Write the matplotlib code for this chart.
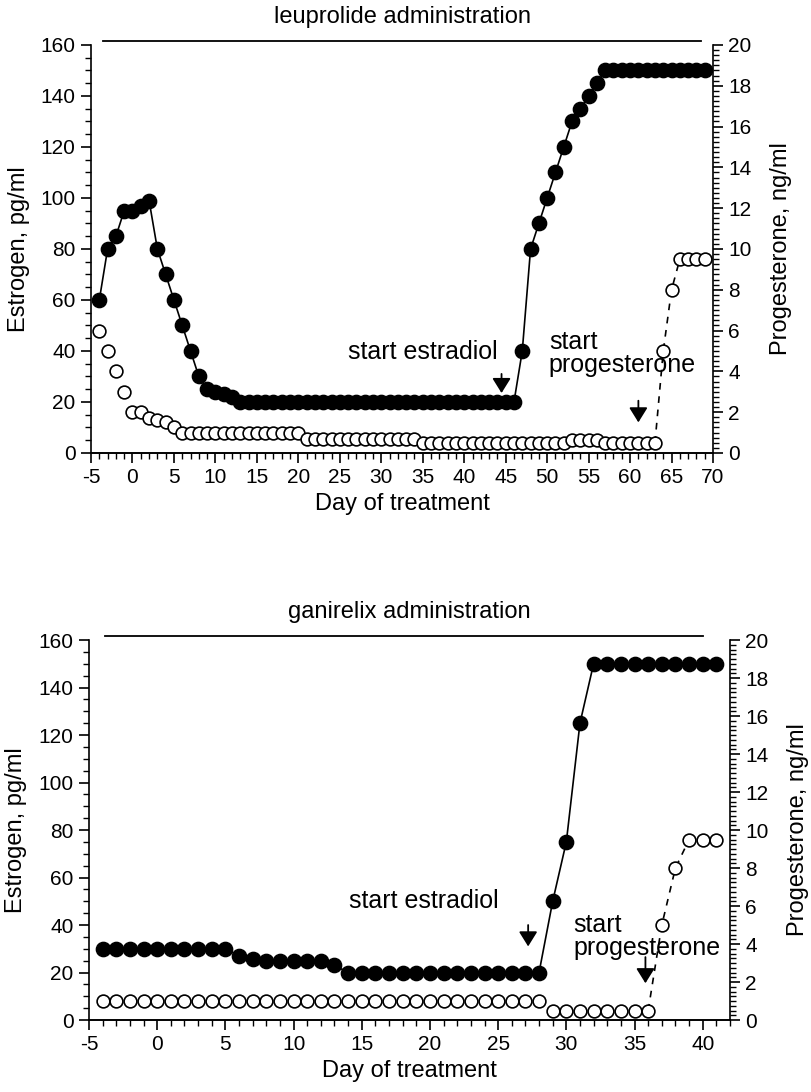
import matplotlib
matplotlib.use('Agg')
import matplotlib.pyplot as plt
from matplotlib.ticker import MultipleLocator

plt.rcParams['font.family'] = 'Liberation Sans'
plt.rcParams['axes.unicode_minus'] = False

# leuprolide panel: daily values
leu_days = [-4, -3, -2, -1, 0, 1, 2, 3, 4, 5, 6, 7, 8, 9, 10, 11, 12,
            13, 14, 15, 16, 17, 18, 19, 20, 21, 22, 23, 24, 25, 26, 27, 28, 29,
            30, 31, 32, 33, 34, 35, 36, 37, 38, 39, 40, 41, 42, 43, 44, 45, 46,
            47, 48, 49, 50, 51, 52, 53, 54, 55, 56,
            57, 58, 59, 60, 61, 62, 63, 64, 65, 66, 67, 68, 69]
leu_estrogen = [60, 80, 85, 95, 95, 97, 99, 80, 70, 60, 50, 40, 30, 25, 24, 23, 22,
                20, 20, 20, 20, 20, 20, 20, 20, 20, 20, 20, 20, 20, 20, 20, 20, 20,
                20, 20, 20, 20, 20, 20, 20, 20, 20, 20, 20, 20, 20, 20, 20, 20, 20,
                40, 80, 90, 100, 110, 120, 130, 135, 140, 145,
                150, 150, 150, 150, 150, 150, 150, 150, 150, 150, 150, 150, 150]
leu_progesterone = [6.0, 5.0, 4.0, 3.0, 2.0, 2.0, 1.7, 1.6, 1.5, 1.25,
                    1.0, 1.0, 1.0, 1.0, 1.0, 1.0, 1.0, 1.0, 1.0, 1.0, 1.0, 1.0, 1.0, 1.0, 1.0,
                    0.7, 0.7, 0.7, 0.7, 0.7, 0.7, 0.7, 0.7, 0.7, 0.7, 0.7, 0.7, 0.7, 0.7,
                    0.5, 0.5, 0.5, 0.5, 0.5, 0.5, 0.5, 0.5, 0.5, 0.5, 0.5, 0.5, 0.5, 0.5,
                    0.5, 0.5, 0.5, 0.5,
                    0.65, 0.65, 0.65, 0.65,
                    0.5, 0.5, 0.5, 0.5, 0.5, 0.5, 0.5,
                    5.0, 8.0, 9.5, 9.5, 9.5, 9.5]
leu_admin = [-3.5, 68.5]          # treatment bar, days
leu_estradiol_start = 44.5
leu_progesterone_start = 61
leu_prog_rise_from = 63

# ganirelix panel: daily values
gan_days = [-4, -3, -2, -1, 0, 1, 2, 3, 4, 5, 6, 7, 8, 9, 10, 11, 12, 13,
            14, 15, 16, 17, 18, 19, 20, 21, 22, 23, 24, 25, 26, 27, 28,
            29, 30, 31, 32, 33, 34, 35, 36, 37, 38, 39, 40, 41]
gan_estrogen = [30, 30, 30, 30, 30, 30, 30, 30, 30, 30, 27, 25.5, 25, 25, 25, 25, 25, 23,
                20, 20, 20, 20, 20, 20, 20, 20, 20, 20, 20, 20, 20, 20, 20,
                50, 75, 125, 150, 150, 150, 150, 150, 150, 150, 150, 150, 150]
gan_progesterone = [1.0, 1.0, 1.0, 1.0, 1.0, 1.0, 1.0, 1.0, 1.0, 1.0, 1.0, 1.0, 1.0, 1.0,
                    1.0, 1.0, 1.0, 1.0, 1.0, 1.0, 1.0, 1.0, 1.0, 1.0, 1.0, 1.0, 1.0, 1.0,
                    1.0, 1.0, 1.0, 1.0, 1.0,
                    0.5, 0.5, 0.5, 0.5, 0.5, 0.5, 0.5, 0.5,
                    5.0, 8.0, 9.5, 9.5, 9.5]
gan_admin = [-3.8, 40]
gan_estradiol_start = 27.2
gan_progesterone_start = 35.8
gan_prog_rise_from = 36

ARROW = dict(arrowstyle='-|>,head_length=0.45,head_width=0.28', color='black',
             lw=1.3, mutation_scale=20, shrinkA=0, shrinkB=0)


def draw_panel(ax, days, estrogen, progesterone, rise_from, admin, xmax, title,
               e_arrow, p_arrow, e_text, p_text):
    axr = ax.twinx()
    ax.plot(days, estrogen, color='black', lw=1.2, marker='o', ms=10.3,
            mfc='black', mec='black', zorder=3)
    rise = [i for i, d in enumerate(days) if d >= rise_from]
    axr.plot([days[i] for i in rise], [progesterone[i] for i in rise],
             color='black', lw=1.2, ls=(0, (4, 4)), zorder=2)
    axr.plot(days, progesterone, ls='none', marker='o', ms=9.2,
             mfc='white', mec='black', mew=1.2, zorder=3)

    ax.plot(admin, [161.5, 161.5], color='black', lw=1.3, clip_on=False)

    ax.set_xlim(-5, xmax)
    ax.set_ylim(0, 160)
    axr.set_ylim(0, 20)
    ax.xaxis.set_major_locator(MultipleLocator(5))
    ax.xaxis.set_minor_locator(MultipleLocator(1))
    ax.yaxis.set_major_locator(MultipleLocator(20))
    ax.yaxis.set_minor_locator(MultipleLocator(5))
    axr.yaxis.set_major_locator(MultipleLocator(2))
    axr.yaxis.set_minor_locator(MultipleLocator(0.25))

    for a in (ax, axr):
        a.spines['top'].set_visible(False)
        for s in a.spines.values():
            s.set_linewidth(1.2)
        a.tick_params(which='major', direction='out', length=7, width=1.2,
                      labelsize=15, pad=4)
        a.tick_params(which='minor', direction='out', length=4, width=1.0)
    ax.spines['right'].set_visible(False)
    axr.spines['left'].set_visible(False)

    ax.set_ylabel('Estrogen, pg/ml', fontsize=17, labelpad=8)
    axr.set_ylabel('Progesterone, ng/ml', fontsize=17, labelpad=13)
    ax.set_xlabel('Day of treatment', fontsize=17, labelpad=4)
    ax.set_title(title, fontsize=17, pad=16)

    ax.annotate('', xy=(e_arrow[0], e_arrow[2]), xytext=(e_arrow[0], e_arrow[1]),
                arrowprops=ARROW)
    ax.annotate('', xy=(p_arrow[0], p_arrow[2]), xytext=(p_arrow[0], p_arrow[1]),
                arrowprops=ARROW)
    ax.text(e_text[0], e_text[1], 'start estradiol', fontsize=18,
            ha='left', va='center')
    ax.text(p_text[0], p_text[1], 'start\nprogesterone', fontsize=18,
            ha='left', va='center', linespacing=0.95)
    return axr


fig = plt.figure(figsize=(8.12, 10.92), dpi=100)

ax1 = fig.add_axes([0.1121, 0.5852, 0.7660, 0.3736])
draw_panel(ax1, leu_days, leu_estrogen, leu_progesterone, leu_prog_rise_from,
           leu_admin, 70, 'leuprolide administration',
           (leu_estradiol_start, 31, 23.5), (leu_progesterone_start, 20.5, 12),
           (26, 39.5), (50.2, 39))

ax2 = fig.add_axes([0.1096, 0.0659, 0.7894, 0.3480])
draw_panel(ax2, gan_days, gan_estrogen, gan_progesterone, gan_prog_rise_from,
           gan_admin, 42, 'ganirelix administration',
           (gan_estradiol_start, 40, 31), (gan_progesterone_start, 26.5, 15.5),
           (14.1, 50), (30.5, 35))

fig.savefig('out.png', dpi=100)
